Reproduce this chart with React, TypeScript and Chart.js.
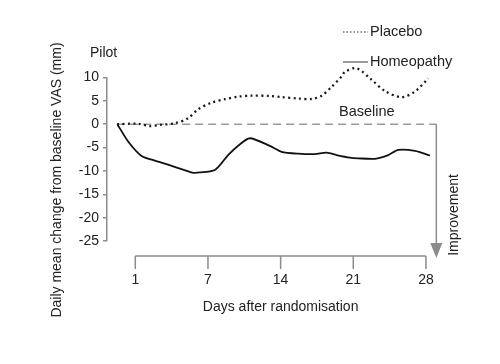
import React, { useEffect, useRef } from "react";
import { Chart, registerables } from "chart.js";

Chart.register(...registerables);

const placeboDays = [-1.75, 0.27, 1.4, 2.36, 3.81, 5.09, 6.05, 7.34, 8.63, 9.91, 11.2, 12.96, 14.09, 15.69, 16.98, 17.95, 18.91, 19.87, 20.19, 21.3, 22.77, 24.05, 25.66, 26.94, 28.22];
const placeboValues = [0, 0.1, -0.4, -0.15, 0.2, 1.3, 3.2, 4.6, 5.35, 5.9, 6.1, 6.05, 5.8, 5.5, 5.4, 6.1, 8.0, 10.2, 11.2, 12.0, 9.5, 7.1, 5.8, 7.0, 9.8];

const homeoDays = [-1.73, -0.69, 0.6, 1.88, 3.49, 5.25, 5.6, 7.66, 8.94, 9.91, 11.04, 12.96, 14.09, 15.69, 17.3, 18.43, 19.39, 20.67, 21.47, 23.08, 24.37, 25.33, 26.94, 28.39];
const homeoValues = [0, -3.7, -6.8, -7.8, -8.9, -10.2, -10.4, -9.8, -6.6, -4.6, -3.0, -4.65, -5.9, -6.3, -6.4, -6.1, -6.6, -7.15, -7.3, -7.4, -6.6, -5.5, -5.7, -6.7];

const baselineDays = [-1.75, 29];
const baselineValues = [0, 0];

const xTickDays = [0, 7, 14, 21, 28];
const xTickLabels = ["1", "7", "14", "21", "28"];
const yTicks = [10, 5, 0, -5, -10, -15, -20, -25];

const FONT = "Liberation Sans, Arial, sans-serif";
const AXIS = "#8c8c8c";
const TEXT = "#222";

const toPoints = (xs: number[], ys: number[]) => xs.map((x, i) => ({ x, y: ys[i] }));

const annotations = {
  id: "annotations",
  afterDraw(chart: any) {
    const { ctx, chartArea, scales } = chart;
    const xs = scales.x;
    const ys = scales.y;
    ctx.save();
    // Detached x axis
    const yAx = chartArea.bottom + 15;
    const x0 = xs.getPixelForValue(xTickDays[0]);
    const x1 = xs.getPixelForValue(xTickDays[xTickDays.length - 1]);
    ctx.strokeStyle = AXIS;
    ctx.lineWidth = 1.5;
    ctx.beginPath();
    ctx.moveTo(x0, yAx);
    ctx.lineTo(x1, yAx);
    xTickDays.forEach((d) => {
      const px = xs.getPixelForValue(d);
      ctx.moveTo(px, yAx);
      ctx.lineTo(px, yAx + 13);
    });
    ctx.stroke();
    ctx.fillStyle = TEXT;
    ctx.font = `14px ${FONT}`;
    ctx.textAlign = "center";
    ctx.textBaseline = "middle";
    xTickDays.forEach((d, i) => {
      ctx.fillText(xTickLabels[i], xs.getPixelForValue(d), yAx + 24);
    });
    ctx.fillText("Days after randomisation", (x0 + x1) / 2, yAx + 51);

    // Y title
    ctx.save();
    ctx.translate(57, 180);
    ctx.rotate(-Math.PI / 2);
    ctx.fillText("Daily mean change from baseline VAS (mm)", 0, 0);
    ctx.restore();

    // Pilot
    ctx.textAlign = "left";
    ctx.fillText("Pilot", 90, 53);

    // Legend
    ctx.font = `14.5px ${FONT}`;
    ctx.strokeStyle = "#777";
    ctx.lineWidth = 1.5;
    ctx.setLineDash([1.5, 2]);
    ctx.beginPath();
    ctx.moveTo(343, 32);
    ctx.lineTo(368, 32);
    ctx.stroke();
    ctx.setLineDash([]);
    ctx.beginPath();
    ctx.moveTo(343, 62);
    ctx.lineTo(368, 62);
    ctx.stroke();
    ctx.fillText("Placebo", 370, 32);
    ctx.fillText("Homeopathy", 370, 62);

    // Baseline label
    ctx.fillText("Baseline", 339, 112);

    // Improvement arrow
    const ax = xs.getPixelForValue(baselineDays[1]);
    const ay0 = ys.getPixelForValue(0);
    const tip = yAx + 2;
    ctx.strokeStyle = AXIS;
    ctx.fillStyle = AXIS;
    ctx.lineWidth = 1.5;
    ctx.beginPath();
    ctx.moveTo(ax, ay0);
    ctx.lineTo(ax, tip - 12);
    ctx.stroke();
    ctx.beginPath();
    ctx.moveTo(ax - 6, tip - 15);
    ctx.lineTo(ax + 6, tip - 15);
    ctx.lineTo(ax, tip);
    ctx.closePath();
    ctx.fill();

    ctx.fillStyle = TEXT;
    ctx.font = `14px ${FONT}`;
    ctx.save();
    ctx.translate(454, 215);
    ctx.rotate(-Math.PI / 2);
    ctx.textAlign = "center";
    ctx.fillText("Improvement", 0, 0);
    ctx.restore();

    ctx.restore();
  },
};

export default function App() {
  const ref = useRef<HTMLCanvasElement>(null);
  useEffect(() => {
    if (!ref.current) return;
    const pxPerDay = 10.38;
    const day0 = 135.3;
    const left = 107;
    const right = 450;
    const chart = new Chart(ref.current, {
      type: "line",
      data: {
        datasets: [
          {
            label: "Placebo",
            data: toPoints(placeboDays, placeboValues),
            borderColor: "#1a1a1a",
            borderWidth: 2.3,
            borderDash: [2, 3.4],
            pointRadius: 0,
            tension: 0.3,
            fill: false,
            clip: false,
            order: 1,
          },
          {
            label: "Homeopathy",
            data: toPoints(homeoDays, homeoValues),
            borderColor: "#111",
            borderWidth: 1.8,
            pointRadius: 0,
            tension: 0.25,
            fill: false,
            clip: false,
            order: 1,
          },
          {
            label: "Baseline",
            data: toPoints(baselineDays, baselineValues),
            borderColor: "#999",
            borderWidth: 1.6,
            borderDash: [8, 5],
            pointRadius: 0,
            fill: false,
            clip: false,
            order: 3,
          },
        ],
      },
      options: {
        animation: false,
        responsive: false,
        events: [],
        layout: { padding: { left: 0, top: 77.5, right: 500 - right, bottom: 364 - 241 } },
        plugins: { legend: { display: false }, tooltip: { enabled: false }, title: { display: false } },
        scales: {
          x: {
            type: "linear",
            display: false,
            min: (left - day0) / pxPerDay,
            max: (right - day0) / pxPerDay,
          },
          y: {
            type: "linear",
            min: -25,
            max: 10,
            afterBuildTicks: (scale: any) => {
              scale.ticks = yTicks.map((v) => ({ value: v }));
            },
            afterFit: (scale: any) => {
              scale.width = left;
            },
            ticks: {
              color: TEXT,
              font: { family: FONT, size: 14 },
              padding: 4,
            },
            grid: {
              drawOnChartArea: false,
              drawTicks: true,
              tickLength: 4,
              color: AXIS,
              lineWidth: 1.5,
            },
            border: { color: AXIS, width: 1.5 },
          },
        },
      },
      plugins: [annotations],
    });
    return () => chart.destroy();
  }, []);
  return (
    <div style={{ position: "fixed", left: 0, top: 0, width: 500, height: 364, background: "#fff" }}>
      <canvas ref={ref} width={500} height={364} />
    </div>
  );
}
